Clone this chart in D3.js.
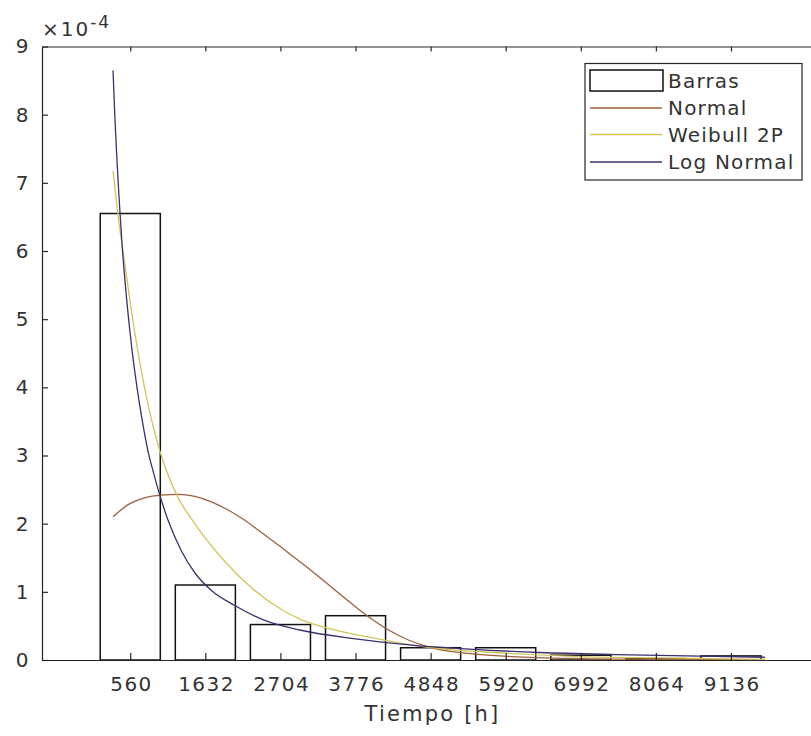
<!DOCTYPE html>
<html>
<head>
<meta charset="utf-8">
<script src="https://cdn.jsdelivr.net/npm/d3@7"></script>
<style>
  html, body { margin: 0; padding: 0; background: #fff; }
  svg { display: block; overflow: hidden; }
  text { font-family: "DejaVu Sans", sans-serif; fill: #333; }
</style>
</head>
<body>
<svg id="chart" width="811" height="736"></svg>
<script>
// Histogram of failure times (bin centres, hours) and density per bin (x1e-4)
const categories = [560, 1632, 2704, 3776, 4848, 5920, 6992, 8064, 9136];
const barDensity = [6.55, 1.10, 0.52, 0.65, 0.18, 0.18, 0.07, 0.02, 0.06];
const binWidth = 1072;

// Fitted density curves (hours, x1e-4)
const normalX = [314, 530, 767, 1005, 1243, 1481, 1719, 1957, 2195, 2433, 2670, 2908, 3146, 3384, 3622, 3860, 4198, 4540, 4825, 5339, 6000, 7000, 8000, 9620];
const normalY = [2.10, 2.28, 2.38, 2.42, 2.43, 2.40, 2.32, 2.20, 2.05, 1.87, 1.69, 1.50, 1.31, 1.11, 0.91, 0.71, 0.47, 0.29, 0.19, 0.10, 0.05, 0.02, 0.01, 0.00];

const weibullX = [314, 382, 453, 577, 753, 981, 1220, 1481, 1862, 2290, 2718, 3004, 3450, 4150, 4848, 5920, 6992, 8064, 9620];
const weibullY = [7.18, 6.55, 6.02, 5.12, 4.05, 3.07, 2.43, 2.00, 1.50, 1.06, 0.74, 0.59, 0.45, 0.30, 0.18, 0.10, 0.05, 0.03, 0.01];

const lognormX = [314, 339, 363, 386, 410, 443, 506, 577, 649, 720, 814, 910, 981, 1100, 1291, 1481, 1719, 2052, 2480, 2980, 3776, 4650, 5400, 6400, 7500, 8500, 9620];
const lognormY = [8.65, 8.00, 7.48, 7.03, 6.62, 6.10, 5.32, 4.62, 4.05, 3.58, 3.06, 2.68, 2.42, 2.05, 1.60, 1.28, 1.02, 0.80, 0.58, 0.44, 0.31, 0.21, 0.16, 0.11, 0.08, 0.06, 0.04];

const yTicks = [0, 1, 2, 3, 4, 5, 6, 7, 8, 9];
const xLabel = "Tiempo [h]";
const legendNames = ["Barras", "Normal", "Weibull 2P", "Log Normal"];
const curveColors = { normal: "#a05f3a", weibull: "#d0c45a", lognorm: "#3e3070" };

const svg = d3.select("#chart");
const plot = { left: 42, right: 823, top: 46.5, bottom: 660 };

const x = d3.scaleLinear().domain([-700, 10450]).range([plot.left, plot.right]);
const y = d3.scaleLinear().domain([0, 9]).range([plot.bottom, plot.top]);

const axisColor = "#262626";
const fontSize = 20;

// Bars
svg.append("g").selectAll("rect")
  .data(categories.map((c, i) => ({ c, v: barDensity[i] })))
  .join("rect")
  .attr("x", d => x(d.c - 0.4 * binWidth))
  .attr("width", d => x(d.c + 0.4 * binWidth) - x(d.c - 0.4 * binWidth))
  .attr("y", d => y(d.v))
  .attr("height", d => y(0) - y(d.v))
  .attr("fill", "#fff")
  .attr("stroke", "#111")
  .attr("stroke-width", 1.5);

// Curves
const line = d3.line().x(d => x(d[0])).y(d => y(d[1])).curve(d3.curveMonotoneX);
const curves = [
  { xs: normalX, ys: normalY, color: curveColors.normal },
  { xs: weibullX, ys: weibullY, color: curveColors.weibull },
  { xs: lognormX, ys: lognormY, color: curveColors.lognorm }
];
curves.forEach(cv => {
  svg.append("path")
    .datum(cv.xs.map((v, i) => [v, cv.ys[i]]))
    .attr("d", line)
    .attr("fill", "none")
    .attr("stroke", cv.color)
    .attr("stroke-width", 1.3);
});

// Axes
function styleAxis(g) {
  g.selectAll(".domain").attr("stroke", axisColor).attr("stroke-width", 1.2);
  g.selectAll(".tick line").attr("stroke", axisColor).attr("stroke-width", 1.2);
  g.selectAll(".tick text")
    .attr("font-size", fontSize)
    .attr("font-family", "DejaVu Sans, sans-serif")
    .attr("fill", "#333")
    .attr("letter-spacing", "1.5px");
}

svg.append("g")
  .attr("transform", `translate(0,${plot.bottom})`)
  .call(d3.axisBottom(x).tickValues(categories).tickFormat(d3.format("d"))
    .tickSizeInner(-7).tickSizeOuter(0).tickPadding(17))
  .call(styleAxis)
  .selectAll(".tick text").attr("dx", "0.75px");

svg.append("g")
  .attr("transform", `translate(0,${plot.top})`)
  .call(d3.axisTop(x).tickValues(categories).tickFormat("")
    .tickSizeInner(-5).tickSizeOuter(0))
  .call(styleAxis);

svg.append("g")
  .attr("transform", `translate(${plot.left},0)`)
  .call(d3.axisLeft(y).tickValues(yTicks).tickFormat(d3.format("d"))
    .tickSizeInner(-6).tickSizeOuter(0).tickPadding(12))
  .call(styleAxis);

// Exponent marker
const expo = svg.append("text")
  .attr("x", 42).attr("y", 36)
  .attr("font-size", fontSize)
  .attr("letter-spacing", "2px");
expo.append("tspan").text("\u00d710");
expo.append("tspan").attr("dy", -8).attr("font-size", 17).text("-4");

// Axis title
svg.append("text")
  .attr("x", (plot.left + plot.right) / 2)
  .attr("y", 721)
  .attr("text-anchor", "middle")
  .attr("font-size", 21)
  .attr("letter-spacing", "2.2px")
  .text(xLabel);

// Legend
const lg = svg.append("g");
lg.append("rect")
  .attr("x", 585).attr("y", 63.5).attr("width", 217).attr("height", 116.5)
  .attr("fill", "#fff").attr("stroke", axisColor).attr("stroke-width", 1.2);

const rowY = [80.5, 108, 134.5, 162];
lg.append("rect")
  .attr("x", 590).attr("y", 70).attr("width", 73).attr("height", 21)
  .attr("fill", "#fff").attr("stroke", "#111").attr("stroke-width", 1.5);
[curveColors.normal, curveColors.weibull, curveColors.lognorm].forEach((c, i) => {
  lg.append("line")
    .attr("x1", 590).attr("x2", 662)
    .attr("y1", rowY[i + 1]).attr("y2", rowY[i + 1])
    .attr("stroke", c).attr("stroke-width", 1.3);
});
legendNames.forEach((name, i) => {
  lg.append("text")
    .attr("x", 668).attr("y", rowY[i])
    .attr("dy", "0.36em")
    .attr("font-size", fontSize)
    .attr("letter-spacing", "1.2px")
    .text(name);
});
</script>
</body>
</html>
